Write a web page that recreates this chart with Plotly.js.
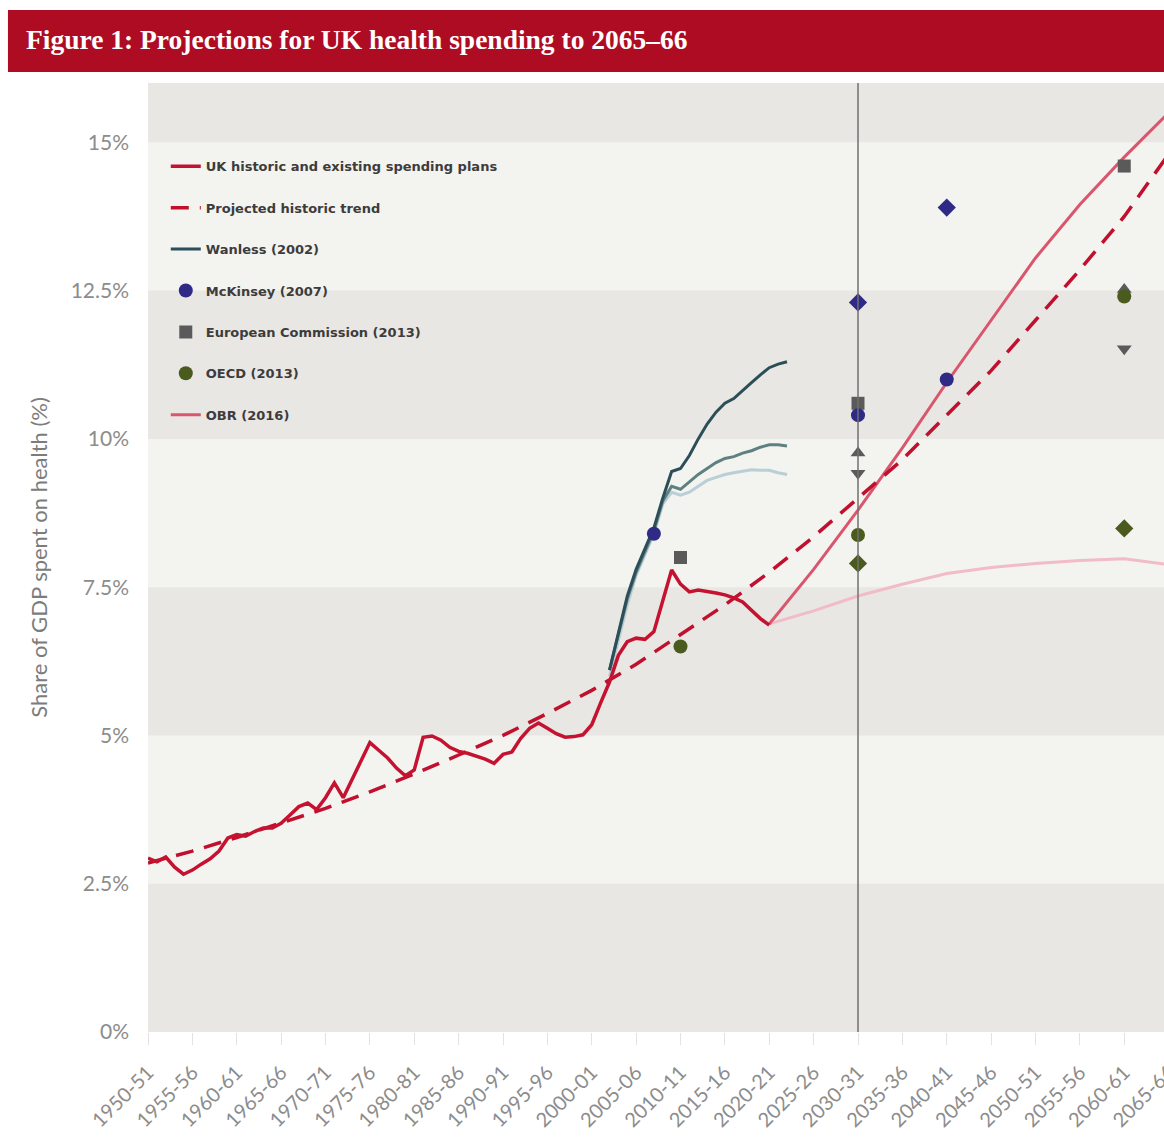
<!DOCTYPE html>
<html><head><meta charset="utf-8">
<script src="https://cdn.plot.ly/plotly-3.0.1.min.js"></script>
<style>html,body{margin:0;padding:0;overflow:hidden;background:#fff;width:1164px;height:1137px}</style>
</head><body><div id="chart" style="width:1220px;height:1137px"></div>
<script>
// ---- Data (share of GDP spent on health, %) ----
const histYears = [1950,1951,1952,1953,1954,1955,1956,1957,1958,1959,1960,1961,1962,1963,1964,1965,1966,1967,1968,1969,1970,1971,1972,1973,1974,1975,1976,1977,1978,1979,1980,1981,1982,1983,1984,1985,1986,1987,1988,1989,1990,1991,1992,1993,1994,1995,1996,1997,1998,1999,2000,2001,2002,2003,2004,2005,2006,2007,2008,2009,2010,2011,2012,2013,2014,2015,2016,2017,2018,2019,2020];
const histValues = [2.93,2.87,2.95,2.78,2.66,2.73,2.83,2.92,3.05,3.27,3.33,3.30,3.38,3.44,3.44,3.52,3.66,3.80,3.86,3.75,3.95,4.20,3.95,4.25,4.55,4.88,4.75,4.62,4.45,4.32,4.42,4.97,4.99,4.92,4.80,4.73,4.70,4.65,4.60,4.53,4.68,4.72,4.95,5.12,5.21,5.12,5.03,4.97,4.98,5.01,5.18,5.55,5.90,6.35,6.58,6.64,6.62,6.75,7.25,7.79,7.55,7.42,7.45,7.43,7.40,7.37,7.32,7.25,7.10,6.97,6.86];

const trendYears = [1950,1955,1960,1965,1970,1975,1980,1985,1990,1995,2000,2005,2010,2015,2020,2025,2030,2035,2040,2045,2050,2055,2060,2065];
const trendValues = [2.85,3.05,3.28,3.52,3.77,4.05,4.35,4.67,5.0,5.37,5.76,6.2,6.7,7.2,7.75,8.35,9.0,9.65,10.4,11.15,12.0,12.85,13.75,14.8];

const wanlessYears = [2002,2003,2004,2005,2006,2007,2008,2009,2010,2011,2012,2013,2014,2015,2016,2017,2018,2019,2020,2021,2022];
const wanlessHigh = [6.1,6.75,7.35,7.8,8.15,8.5,9.0,9.45,9.5,9.72,10.0,10.25,10.45,10.6,10.68,10.82,10.95,11.08,11.2,11.26,11.3];
const wanlessMid  = [6.1,6.72,7.3,7.75,8.1,8.45,8.95,9.2,9.15,9.27,9.4,9.5,9.6,9.67,9.7,9.76,9.8,9.86,9.9,9.9,9.88];
const wanlessLow  = [6.0,6.6,7.2,7.7,8.05,8.4,8.9,9.1,9.05,9.1,9.2,9.3,9.35,9.4,9.43,9.46,9.48,9.47,9.47,9.43,9.4];

const obrYears = [2020,2025,2030,2035,2040,2045,2050,2055,2060,2065];
const obrHigh = [6.88,7.8,8.8,9.85,10.95,12.0,13.05,13.95,14.75,15.5];
const obrLow  = [6.88,7.1,7.35,7.55,7.73,7.83,7.9,7.95,7.98,7.88];

const mckYears   = [2007,2030,2030,2040,2040];
const mckValues  = [8.4,12.3,10.4,13.9,11.0];
const mckSymbols = ['circle','diamond','circle','diamond','circle'];

const ecYears   = [2010,2030,2030,2030,2060,2060,2060];
const ecValues  = [8.0,10.6,9.76,9.42,14.6,12.52,11.52];
const ecSymbols = ['square','square','triangle-up','triangle-down','square','triangle-up','triangle-down'];

const oecdYears   = [2010,2030,2030,2060,2060];
const oecdValues  = [6.5,8.38,7.9,12.4,8.49];
const oecdSymbols = ['circle','circle','diamond','circle','diamond'];

const projectionYear = 2030;

const tickYears = [1950,1955,1960,1965,1970,1975,1980,1985,1990,1995,2000,2005,2010,2015,2020,2025,2030,2035,2040,2045,2050,2055,2060,2065];
const tickLabels = ['1950-51','1955-56','1960-61','1965-66','1970-71','1975-76','1980-81','1985-86','1990-91','1995-96','2000-01','2005-06','2010-11','2015-16','2020-21','2025-26','2030-31','2035-36','2040-41','2045-46','2050-51','2055-56','2060-61','2065-66'];
const yTickVals = [0,2.5,5,7.5,10,12.5,15];
const yTickText = ['0%','2.5%','5%','7.5%','10%','12.5%','15%'];

const names = ['UK historic and existing spending plans','Projected historic trend','Wanless (2002)','McKinsey (2007)','European Commission (2013)','OECD (2013)','OBR (2016)'];

// ---- Traces ----
const traces = [
  {x: obrYears, y: obrLow, mode:'lines', line:{color:'#f1bcc5', width:3}, legendgroup:'obr', showlegend:false, hoverinfo:'skip'},
  {x: obrYears, y: obrHigh, mode:'lines', line:{color:'#d9566d', width:3}, name: names[6], legendgroup:'obr', legendrank:7},
  {x: trendYears, y: trendValues, mode:'lines', line:{color:'#c0102e', width:3.5, dash:'18px,11px'}, name: names[1], legendgroup:'trend', legendrank:2},
  {x: wanlessYears, y: wanlessLow, mode:'lines', line:{color:'#b9cfd5', width:3}, legendgroup:'wan', showlegend:false},
  {x: wanlessYears, y: wanlessMid, mode:'lines', line:{color:'#5f8080', width:3}, legendgroup:'wan', showlegend:false},
  {x: wanlessYears, y: wanlessHigh, mode:'lines', line:{color:'#2c4e58', width:3}, name: names[2], legendgroup:'wan', legendrank:3},
  {x: histYears, y: histValues, mode:'lines', line:{color:'#c41230', width:3.5}, name: names[0], legendgroup:'hist', legendrank:1},
  {x: ecYears, y: ecValues, mode:'markers', marker:{color:'#5a5a5a', size:13, symbol: ecSymbols}, name: names[4], legendgroup:'ec', legendrank:5},
  {x: mckYears, y: mckValues, mode:'markers', marker:{color:'#2e2a86', size:14, symbol: mckSymbols}, name: names[3], legendgroup:'mck', legendrank:4},
  {x: oecdYears, y: oecdValues, mode:'markers', marker:{color:'#4b5a1d', size:14, symbol: oecdSymbols}, name: names[5], legendgroup:'oecd', legendrank:6}
];

// ---- Background bands ----
const bandColor = '#e9e7e3';
const bandStarts = [0,5,10,15];
const shapes = bandStarts.map(b => ({type:'rect', xref:'paper', yref:'y', x0:0, x1:1, y0:b, y1:Math.min(b+2.5,16), fillcolor:bandColor, line:{width:0}, layer:'below'}));
shapes.push({type:'line', xref:'x', yref:'paper', x0:projectionYear, x1:projectionYear, y0:0, y1:1, line:{color:'#707070', width:1.5}, layer:'above'});
// title bar
shapes.push({type:'rect', xref:'paper', yref:'paper', x0:-0.1315, x1:1.01, y0:1.0116, y1:1.0769, fillcolor:'#ae0c22', line:{width:0}, layer:'below'});

const layout = {
  width:1220, height:1137,
  margin:{l:148, r:7, t:83, b:105},
  paper_bgcolor:'#ffffff', plot_bgcolor:'#f3f3f0',
  title:{text:'Figure 1: Projections for UK health spending to 2065–66', x:26/1220, xref:'container', xanchor:'left', y:1-39/1137, yref:'container', yanchor:'middle',
         font:{family:'Liberation Serif, serif', size:27.5, color:'#ffffff', weight:'bold'}},
  xaxis:{range:[1950,2070], tickvals:tickYears, ticktext:tickLabels, tickangle:-45, showgrid:false, zeroline:false, showline:false,
         ticks:'outside', ticklen:12, tickcolor:'#e2e2e2', tickwidth:1, ticklabelstandoff:8,
         tickfont:{family:'Lato, sans-serif', size:20, color:'#8c8c8c'}},
  yaxis:{range:[0,16], tickvals:yTickVals, ticktext:yTickText, showgrid:false, zeroline:false, showline:false, ticks:'', ticklabelstandoff:18,
         tickfont:{family:'Lato, sans-serif', size:21, color:'#8c8c8c'},
         title:{text:'Share of GDP spent on health (%)', standoff:16, font:{family:'Lato, sans-serif', size:22, color:'#7c7c7c'}}},
  legend:{x:0.0167, y:0.928, xanchor:'left', yanchor:'top', bgcolor:'rgba(0,0,0,0)', traceorder:'grouped', tracegroupgap:21.5, itemwidth:30,
          font:{family:'DejaVu Sans, sans-serif', size:13, color:'#3c3c3c', weight:'bold'}},
  shapes: shapes,
  showlegend:true
};

Plotly.newPlot('chart', traces, layout, {displayModeBar:false, staticPlot:true});
</script></body></html>
